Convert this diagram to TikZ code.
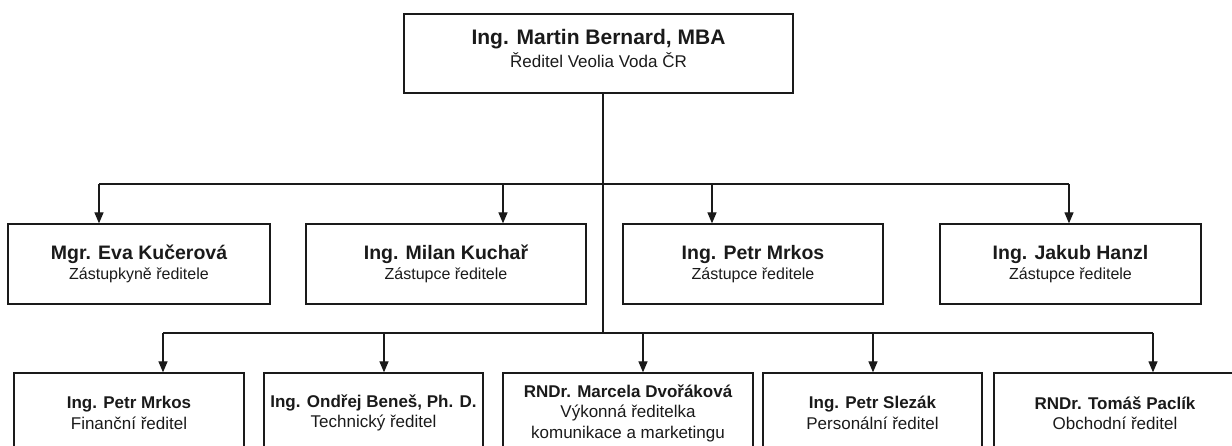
\documentclass[tikz,border=0pt]{standalone}
\usepackage{fontspec}
\setmainfont{Liberation Sans}
\usetikzlibrary{arrows.meta}
\definecolor{ink}{HTML}{1A1A1A}
\tikzstyle{boxes} = [rectangle, draw=ink, line width=1.3pt, inner sep=0pt, align=center, text=ink]
\tikzstyle{toprow} = [boxes, font=\fontsize{17}{23}\selectfont]
\tikzstyle{midrow} = [boxes, minimum height=80pt, font=\fontsize{16}{20}\selectfont]
\tikzstyle{lowrow} = [boxes, minimum height=80pt, font=\fontsize{17}{20.5}\selectfont]
\tikzstyle{arrow} = [draw=ink, line width=1.3pt, -{Triangle[width=9pt,length=11pt]}]
\tikzstyle{line} = [draw=ink, line width=1.3pt]
\newcommand{\bigname}[1]{{\fontsize{21}{23}\selectfont\bfseries #1}}
\newcommand{\midname}[1]{{\fontsize{19.5}{20}\selectfont\bfseries #1}}
\newcommand{\lowname}[1]{{\bfseries #1}}

\begin{document}
\begin{tikzpicture}[x=1pt, y=-1pt]

    \useasboundingbox (0,0) rectangle (1232,446);

    % director
    \node (ceo) [toprow, minimum width=389pt, minimum height=79pt] at (598.5,53.5)
        {\bigname{Ing. Martin Bernard, MBA}\\Ředitel Veolia Voda ČR\\[-12pt]{}};

    % deputies
    \node (eva) [midrow, minimum width=262pt] at (139,264)
        {\midname{Mgr. Eva Kučerová}\\Zástupkyně ředitele};
    \node (milan) [midrow, minimum width=280pt] at (446,264)
        {\midname{Ing. Milan Kuchař}\\Zástupce ředitele};
    \node (petr) [midrow, minimum width=260pt] at (753,264)
        {\midname{Ing. Petr Mrkos}\\Zástupce ředitele};
    \node (hanzl) [midrow, minimum width=261pt] at (1070.5,264)
        {\midname{Ing. Jakub Hanzl}\\Zástupce ředitele};

    % directors of departments
    \node (fin) [lowrow, minimum width=230pt] at (129,413)
        {\lowname{Ing. Petr Mrkos}\\Finanční ředitel};
    \node (tech) [lowrow, minimum width=219pt] at (373.5,413)
        {\lowname{Ing. Ondřej Beneš, Ph. D.}\\Technický ředitel};
    \node (kom) [lowrow, minimum width=250pt] at (628,413)
        {\lowname{RNDr. Marcela Dvořáková}\\Výkonná ředitelka\\komunikace a marketingu};
    \node (pers) [lowrow, minimum width=219pt] at (872.5,413)
        {\lowname{Ing. Petr Slezák}\\Personální ředitel};
    \node (obch) [lowrow, minimum width=242pt] at (1115,413)
        {\lowname{RNDr. Tomáš Paclík}\\Obchodní ředitel};

    % trunk and bus lines
    \coordinate (trunk) at (603,333);
    \draw[line] (ceo.south -| trunk) -- (trunk);

    \foreach \n/\x in {eva/99, milan/503, petr/712, hanzl/1069}
        \coordinate (up-\n) at (\x,184);
    \foreach \n/\x in {fin/163, tech/384, kom/643, pers/873, obch/1153}
        \coordinate (lo-\n) at (\x,333);

    \draw[line] (up-eva) -- (up-hanzl);
    \draw[line] (lo-fin) -- (lo-obch);

    \foreach \n in {eva, milan, petr, hanzl}
        \draw[arrow] (up-\n) -- (up-\n |- \n.north);
    \foreach \n in {fin, tech, kom, pers, obch}
        \draw[arrow] (lo-\n) -- (lo-\n |- \n.north);

\end{tikzpicture}
\end{document}
